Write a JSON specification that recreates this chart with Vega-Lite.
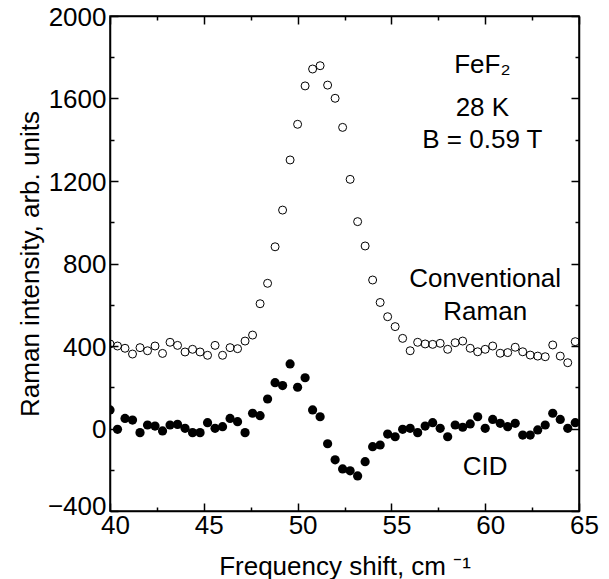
{
  "$schema": "https://vega.github.io/schema/vega-lite/v6.json",
  "width": 469,
  "height": 495,
  "autosize": {"type": "none"},
  "padding": {"left": 110, "top": 16, "right": 30, "bottom": 68},
  "background": "white",
  "config": {
    "font": "Liberation Sans",
    "view": {"stroke": "black", "strokeWidth": 1.5},
    "axis": {
      "grid": false,
      "labelFont": "Liberation Sans",
      "titleFont": "Liberation Sans",
      "labelFontSize": 26,
      "titleFontSize": 26,
      "titleFontWeight": "normal",
      "labelColor": "black",
      "titleColor": "black",
      "domainColor": "black",
      "tickColor": "black",
      "domainWidth": 1.5,
      "tickWidth": 1.5
    }
  },
  "datasets": {
    "conv": [
      {"x": 40.0, "y": 410}, {"x": 40.4, "y": 400}, {"x": 40.8, "y": 389}, {"x": 41.2, "y": 361},
      {"x": 41.6, "y": 392}, {"x": 42.0, "y": 377}, {"x": 42.4, "y": 400}, {"x": 42.8, "y": 364},
      {"x": 43.2, "y": 418}, {"x": 43.6, "y": 403}, {"x": 44.0, "y": 371}, {"x": 44.4, "y": 384},
      {"x": 44.8, "y": 371}, {"x": 45.2, "y": 355}, {"x": 45.6, "y": 403}, {"x": 46.0, "y": 355},
      {"x": 46.4, "y": 392}, {"x": 46.8, "y": 387}, {"x": 47.2, "y": 424}, {"x": 47.6, "y": 453},
      {"x": 48.0, "y": 605}, {"x": 48.4, "y": 704}, {"x": 48.8, "y": 881}, {"x": 49.2, "y": 1059},
      {"x": 49.6, "y": 1302}, {"x": 50.0, "y": 1475}, {"x": 50.4, "y": 1661}, {"x": 50.8, "y": 1743},
      {"x": 51.2, "y": 1759}, {"x": 51.6, "y": 1665}, {"x": 52.0, "y": 1601}, {"x": 52.4, "y": 1460},
      {"x": 52.8, "y": 1208}, {"x": 53.2, "y": 1003}, {"x": 53.6, "y": 885}, {"x": 54.0, "y": 720},
      {"x": 54.4, "y": 611}, {"x": 54.8, "y": 542}, {"x": 55.2, "y": 494}, {"x": 55.6, "y": 437},
      {"x": 56.0, "y": 377}, {"x": 56.4, "y": 418}, {"x": 56.8, "y": 410}, {"x": 57.2, "y": 408},
      {"x": 57.6, "y": 413}, {"x": 58.0, "y": 384}, {"x": 58.4, "y": 416}, {"x": 58.8, "y": 424},
      {"x": 59.2, "y": 389}, {"x": 59.6, "y": 372}, {"x": 60.0, "y": 384}, {"x": 60.4, "y": 400},
      {"x": 60.8, "y": 365}, {"x": 61.2, "y": 368}, {"x": 61.6, "y": 394}, {"x": 62.0, "y": 372},
      {"x": 62.4, "y": 356}, {"x": 62.8, "y": 351}, {"x": 63.2, "y": 348}, {"x": 63.6, "y": 405},
      {"x": 64.0, "y": 351}, {"x": 64.4, "y": 319}, {"x": 64.8, "y": 421}
    ],
    "cid": [
      {"x": 40.0, "y": 90}, {"x": 40.4, "y": -4}, {"x": 40.8, "y": 49}, {"x": 41.2, "y": 41},
      {"x": 41.6, "y": -20}, {"x": 42.0, "y": 17}, {"x": 42.4, "y": 12}, {"x": 42.8, "y": -12},
      {"x": 43.2, "y": 17}, {"x": 43.6, "y": 20}, {"x": 44.0, "y": 1}, {"x": 44.4, "y": -20},
      {"x": 44.8, "y": -20}, {"x": 45.2, "y": 28}, {"x": 45.6, "y": 1}, {"x": 46.0, "y": 9},
      {"x": 46.4, "y": 49}, {"x": 46.8, "y": 33}, {"x": 47.2, "y": -20}, {"x": 47.6, "y": 74},
      {"x": 48.0, "y": 62}, {"x": 48.4, "y": 143}, {"x": 48.8, "y": 222}, {"x": 49.2, "y": 208},
      {"x": 49.6, "y": 313}, {"x": 50.0, "y": 200}, {"x": 50.4, "y": 246}, {"x": 50.8, "y": 90},
      {"x": 51.2, "y": 57}, {"x": 51.6, "y": -74}, {"x": 52.0, "y": -152}, {"x": 52.4, "y": -196},
      {"x": 52.8, "y": -205}, {"x": 53.2, "y": -230}, {"x": 53.6, "y": -161}, {"x": 54.0, "y": -88},
      {"x": 54.4, "y": -80}, {"x": 54.8, "y": -27}, {"x": 55.2, "y": -40}, {"x": 55.6, "y": -4},
      {"x": 56.0, "y": 1}, {"x": 56.4, "y": -20}, {"x": 56.8, "y": 12}, {"x": 57.2, "y": 28},
      {"x": 57.6, "y": 1}, {"x": 58.0, "y": -40}, {"x": 58.4, "y": 17}, {"x": 58.8, "y": 6},
      {"x": 59.2, "y": 22}, {"x": 59.6, "y": 57}, {"x": 60.0, "y": 1}, {"x": 60.4, "y": 44},
      {"x": 60.8, "y": 25}, {"x": 61.2, "y": 9}, {"x": 61.6, "y": 25}, {"x": 62.0, "y": -32},
      {"x": 62.4, "y": -32}, {"x": 62.8, "y": -7}, {"x": 63.2, "y": 17}, {"x": 63.6, "y": 74},
      {"x": 64.0, "y": 44}, {"x": 64.4, "y": 1}, {"x": 64.8, "y": 28}
    ],
    "notes": [
      {"x": 59.85, "y": 1722, "t": "FeF₂"},
      {"x": 59.85, "y": 1515, "t": "28 K"},
      {"x": 59.85, "y": 1361, "t": "B = 0.59 T"},
      {"x": 60.0, "y": 687, "t": "Conventional"},
      {"x": 60.0, "y": 526, "t": "Raman"},
      {"x": 60.0, "y": -225, "t": "CID"}
    ]
  },
  "layer": [
    {
      "data": {"name": "conv"},
      "mark": {"type": "point", "shape": "circle", "filled": false, "stroke": "black", "strokeWidth": 1, "size": 64, "opacity": 1, "clip": true},
      "encoding": {
        "x": {
          "field": "x", "type": "quantitative",
          "scale": {"domain": [40, 65], "nice": false, "zero": false},
          "axis": {
            "orient": "bottom",
            "title": "Frequency shift, cm ⁻¹",
            "format": "d",
            "values": [40, 42.5, 45, 47.5, 50, 52.5, 55, 57.5, 60, 62.5, 65],
            "tickSize": {"condition": {"test": "datum.value % 5 === 0", "value": -8}, "value": -4},
            "labelExpr": "datum.value % 5 === 0 ? datum.label : ''",
            "labelPadding": 9,
            "labelOffset": 5,
            "labelFlush": false,
            "titlePadding": 15
          }
        },
        "y": {
          "field": "y", "type": "quantitative",
          "scale": {"domain": [-400, 2000], "nice": false, "zero": false},
          "axis": {
            "orient": "left",
            "title": "Raman intensity, arb. units",
            "format": "d",
            "values": [-400, -200, 0, 200, 400, 600, 800, 1000, 1200, 1400, 1600, 1800, 2000],
            "tickSize": {"condition": {"test": "datum.value % 400 === 0", "value": -8}, "value": -4},
            "labelExpr": "datum.value % 400 === 0 ? datum.label : ''",
            "labelPadding": 12,
            "labelOffset": {"condition": {"test": "datum.value === -400", "value": -5}, "value": 1},
            "labelFlush": false,
            "titlePadding": 4
          }
        }
      }
    },
    {
      "data": {"name": "cid"},
      "mark": {"type": "circle", "color": "black", "size": 85, "opacity": 1, "clip": true},
      "encoding": {
        "x": {
          "field": "x", "type": "quantitative",
          "axis": {
            "orient": "top", "title": null, "labels": false,
            "values": [40, 42.5, 45, 47.5, 50, 52.5, 55, 57.5, 60, 62.5, 65],
            "tickSize": {"condition": {"test": "datum.value % 5 === 0", "value": -8}, "value": -4}
          }
        },
        "y": {
          "field": "y", "type": "quantitative",
          "axis": {
            "orient": "right", "title": null, "labels": false,
            "values": [-400, -200, 0, 200, 400, 600, 800, 1000, 1200, 1400, 1600, 1800, 2000],
            "tickSize": {"condition": {"test": "datum.value % 400 === 0", "value": -8}, "value": -4}
          }
        }
      }
    },
    {
      "data": {"name": "notes"},
      "mark": {"type": "text", "font": "Liberation Sans", "fontSize": 26, "align": "center", "baseline": "alphabetic", "color": "black"},
      "encoding": {
        "x": {"field": "x", "type": "quantitative", "axis": null},
        "y": {"field": "y", "type": "quantitative", "axis": null},
        "text": {"field": "t"}
      }
    }
  ],
  "resolve": {"axis": {"x": "independent", "y": "independent"}}
}
